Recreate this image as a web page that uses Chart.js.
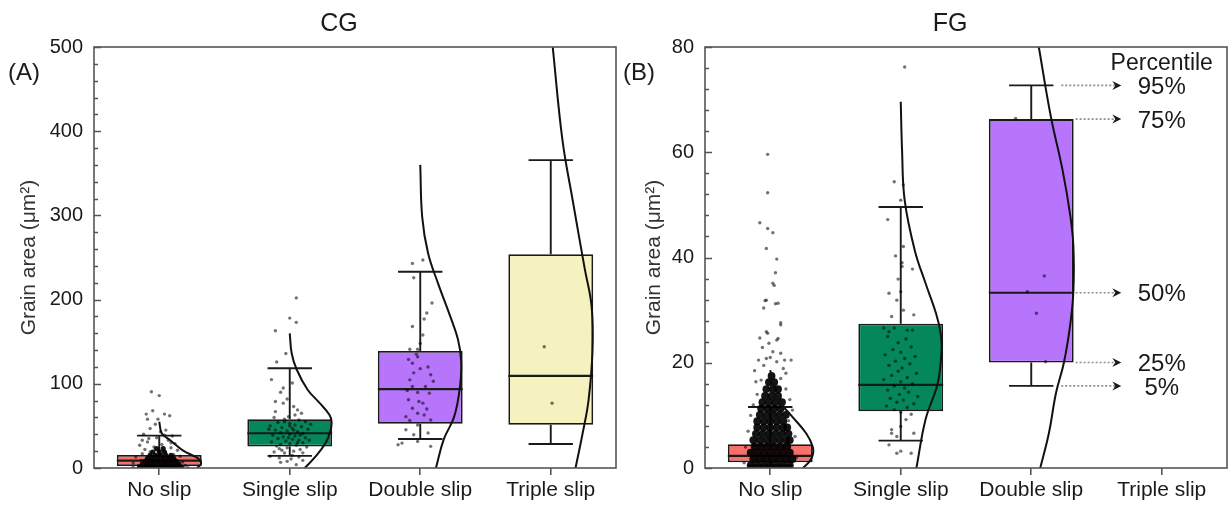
<!DOCTYPE html>
<html>
<head>
<meta charset="UTF-8">
<title>Grain area by slip type</title>
<script src="https://cdn.jsdelivr.net/npm/chart.js"></script>
<style>
  body { margin: 0; background: #fff; }
  #wrap { position: relative; width: 1231px; height: 505px; }
  canvas { position: absolute; top: 0; }
  #cg { left: 0; }
  #fg { left: 620px; }
</style>
</head>
<body>
<div id="wrap">
  <canvas id="cg" width="620" height="505"></canvas>
  <canvas id="fg" width="611" height="505"></canvas>
</div>
<script>
const FONT = '"Liberation Sans", Arial, sans-serif';
const categories = ["No slip", "Single slip", "Double slip", "Triple slip"];
const boxColors = ["#f86f6c", "#03875b", "#b775fc", "#f6f2bf"];
const percentileLabels = ["5%", "25%", "50%", "75%", "95%"];

// box stats per category: [p5, q1, median, q3, p95]
const cgStats = [[1, 2.4, 8.7, 15.4, 38.4], [14.4, 25.5, 41.3, 57.9, 118.5], [34.4, 52.6, 93.7, 139, 233], [28.5, 51.4, 109.5, 254, 365.6]];
const fgStats = [[0.5, 1.1, 2.3, 4.5, 11.6], [5.2, 10.8, 15.8, 27.4, 49.6], [15.6, 20.05, 33.3, 66.3, 72.7], null];

// jittered grains: [offset from category, area]
const cgNoSlipDots = [[-0.06,90.6],[0.0,86],[-0.1,64],[-0.05,68],[-0.09,58],[-0.01,58],[0.04,64],[0.08,62],[-0.03,52],[-0.07,47],[0.01,43],
  [0.05,45],[-0.12,40],[0.10,38],[-0.02,36],[0.07,33],[-0.09,31],[0.12,29],[-0.15,27],[0.02,28],[-0.04,25],[0.09,24],[-0.11,22],[0.14,21],
  [0.0,20],[-0.07,19],[0.05,18],[-0.13,17],[0.11,16],[-0.02,15],[0.16,14],[-0.18,13],[0.07,13],[-0.09,12],[0.03,11],[-0.05,10],[0.12,10],
  [-0.14,9],[0.09,8],[-0.01,8],[0.18,7],[-0.2,6],[0.05,6],[-0.1,5],[0.14,5],[-0.04,4],[0.02,4],[-0.16,3],[0.2,3],[0.08,3],[-0.08,2],
  [0.0,2],[0.12,2],[-0.12,1.5],[0.04,1],[-0.03,1],[0.16,1],[-0.2,1],[0.22,0.5],[-0.06,0.5],[0.1,0.5],[-0.08,35],[0.04,39],[-0.13,33],[0.09,30]];
const cgNoSlipCore = [[-0.15,1],[-0.11,1],[-0.07,1],[-0.03,1],[0.01,1],[0.05,1],[0.09,1],[0.13,1],[0.17,1],
  [-0.13,4.5],[-0.09,4.5],[-0.05,4.5],[-0.01,4.5],[0.03,4.5],[0.07,4.5],[0.11,4.5],[0.15,4.5],
  [-0.11,8],[-0.07,8],[-0.03,8],[0.01,8],[0.05,8],[0.09,8],[0.13,8],
  [-0.09,11.5],[-0.05,11.5],[-0.01,11.5],[0.03,11.5],[0.07,11.5],[0.11,11.5],
  [-0.07,15],[-0.03,15],[0.01,15],[0.05,15],[0.09,15],[-0.05,19],[0.0,19],[0.04,19],[-0.02,23],[0.03,23]];
const cgSingleDots = [[0.05,202],[0.0,178],[0.05,173],[-0.11,163],[-0.03,136],[-0.1,126],[-0.14,105],[-0.05,95],[0.02,101],[-0.07,90],
  [-0.02,82],[-0.11,79],[-0.05,77],[0.03,73],[0.06,69],[0.09,65],[-0.11,67],
  [-0.12,60],[-0.04,58],[0.07,57],[0.12,55],[-0.09,54],[0.0,53],[0.04,51],[-0.15,50],[0.09,49],[-0.06,48],[0.02,47],[0.14,46],[-0.11,45],
  [-0.02,44],[0.06,43],[-0.07,42],[0.1,41],[0.0,40],[-0.13,39],[0.04,38],[-0.05,37],[0.12,36],[-0.09,35],[0.02,34],[0.07,33],[-0.03,32],
  [-0.14,31],[0.1,30],[0.0,29],[-0.07,28],[0.05,27],[-0.1,26],[0.13,25],[-0.02,24],[0.08,22],[-0.06,21],[0.03,20],[-0.12,19],[0.1,18],
  [-0.04,17.8],[0.02,15],[0.07,13],[-0.08,12],[0.01,10.7],[-0.07,6.7],[0.05,4],[-0.02,7.9],[0.1,9],[-0.15,14],[0.15,33],[-0.16,46],
  [0.16,52],[-0.01,61],[0.04,63],[-0.04,55],[0.03,45],[-0.01,36],[0.06,30],[-0.08,23],[0.0,50],[0.08,39]];
const cgDoubleDots = [[-0.06,243],[0.02,247],[-0.05,226],[0.09,196],[0.05,184],[0.03,177],[-0.06,168],[0.02,158],[0.0,148],[-0.08,141],
  [-0.02,141],[-0.09,129],[-0.06,124.5],[-0.02,132],[-0.05,113],[0.08,110.7],[-0.08,104.7],[-0.06,96.8],[0.04,96.8],[-0.02,89.7],[0.07,88.9],
  [-0.09,81],[-0.01,79],[0.02,77],[-0.06,71],[0.05,70],[-0.02,65],[-0.11,61],[0.03,63],[-0.08,56.5],[0.08,57],[-0.02,51],[-0.11,45.5],
  [0.06,41.5],[-0.05,39.5],[-0.14,29.6],[0.08,25.7],[-0.02,31.6],[-0.17,27.7],[0.0,118],[-0.03,135],[0.06,120],[-0.1,92],[0.1,103]];
const cgTripleDots = [[-0.05,144],[0.01,77]];

const fgNoSlipDots = [[-0.02,59.6],[-0.02,52.3],[-0.08,46.6],[-0.02,45.5],[0.02,44.7],[-0.03,41.7],[0.05,39.7],[0.04,37.1],[0.02,35.1],
  [0.03,34.7],[-0.03,31.9],[-0.05,30.4],[0.04,31.2],[0.08,27.6],[0.08,27.2],[-0.02,25.6],[-0.08,24.7],[0.05,24.3],[-0.04,31.8],[0.06,31.3],
  [-0.03,25.9],[0.06,24.6],[-0.01,23.7],[-0.06,22.9],[0.02,22.1],[0.08,21.8],[0.11,20.5],[0.16,20.5],[-0.03,20.8],[0.05,20.2],[-0.09,20.5],
  [0.12,18],[-0.07,16.7],[-0.11,16.4],[0.1,18.9],[-0.1,14],[0.12,15],[-0.13,12],[0.15,13],[-0.15,10],[0.17,11],[-0.12,18.5],[0.08,17],
  [-0.05,19.5],[0.0,21],[0.14,9],[-0.17,7],[0.19,6],[-0.19,4],[0.2,2],[-0.2,1]];
const fgNoSlipCore = [[-0.15,0.5],[-0.1,0.5],[-0.05,0.5],[0,0.5],[0.05,0.5],[0.1,0.5],[0.15,0.5],
  [-0.13,1.7],[-0.08,1.7],[-0.03,1.7],[0.02,1.7],[0.07,1.7],[0.12,1.7],[0.17,1.7],
  [-0.15,2.9],[-0.1,2.9],[-0.05,2.9],[0,2.9],[0.05,2.9],[0.1,2.9],[0.15,2.9],
  [-0.12,4.1],[-0.07,4.1],[-0.02,4.1],[0.03,4.1],[0.08,4.1],[0.13,4.1],
  [-0.13,5.3],[-0.08,5.3],[-0.03,5.3],[0.02,5.3],[0.07,5.3],[0.12,5.3],[0.15,5.3],
  [-0.11,6.5],[-0.06,6.5],[-0.01,6.5],[0.04,6.5],[0.09,6.5],[0.14,6.5],
  [-0.1,7.7],[-0.05,7.7],[0,7.7],[0.05,7.7],[0.1,7.7],[0.13,7.7],
  [-0.1,8.9],[-0.05,8.9],[0,8.9],[0.05,8.9],[0.1,8.9],
  [-0.08,10.1],[-0.03,10.1],[0.02,10.1],[0.07,10.1],[0.12,10.1],
  [-0.07,11.3],[-0.02,11.3],[0.03,11.3],[0.08,11.3],
  [-0.06,12.5],[-0.01,12.5],[0.04,12.5],[0.09,12.5],
  [-0.04,13.7],[0.01,13.7],[0.06,13.7],[-0.03,15],[0.02,15],[0.06,15],[-0.01,16.3],[0.03,16.3],[0.01,17.5]];
const fgSingleDots = [[0.03,76.2],[-0.05,54.4],[0.02,53.8],[0,50.9],[-0.1,47.2],[0.02,42.1],[-0.04,40.3],[0.01,38.3],[0.09,37.8],[0.01,39],
  [-0.02,35.9],[0,33.5],[-0.09,33.2],[-0.03,31.9],[0.02,30],[0.1,29.1],[-0.07,28.8],[-0.13,26.6],[-0.05,26.6],[0.05,26.2],[-0.09,25.9],
  [0.09,26.2],[-0.1,25],[0.04,24.5],[-0.02,23.8],[0.08,23],[-0.06,22.5],[0.0,22],[-0.12,21.5],[0.11,21.2],[0.03,20.8],[-0.04,20.3],
  [0.07,19.8],[-0.09,19.5],[0.01,19],[-0.02,18.4],[0.12,18],[-0.07,17.6],[0.05,17.2],[-0.13,16.8],[0.0,16.4],[0.09,16],[-0.05,15.6],
  [0.03,15.2],[-0.1,14.8],[0.06,14.4],[-0.01,14],[0.13,13.6],[-0.08,13.2],[0.02,12.9],[-0.03,12.5],[0.1,12.2],[-0.11,11.8],[0.05,11.5],
  [-0.05,11.1],[0.0,10.6],[0.08,10.2],[0.04,9.2],[0,7.9],[-0.07,7.3],[0.1,6.6],[-0.07,6.6],[-0.03,6],[-0.09,4.4],[0,3.2],[-0.03,2.8],[0.08,2.8]];
const fgDoubleDots = [[-0.12,66.4],[0.1,36.5],[-0.03,33.5],[0.04,29.4],[0.11,20.2]];

// fitted distribution outlines: [offset from category, area]
const cgNoSlipCurve = [[0,55],[0.02,41],[0.084,33],[0.18,21],[0.275,13.4],[0.31,9.5],[0.32,4.8],[0.29,0]];
const cgSingleCurve = [[0,160],[0.015,136],[0.053,117],[0.137,93],[0.23,77],[0.305,63],[0.32,55],[0.313,45],[0.275,30],[0.2,14],[0.115,0]];
const cgDoubleCurve = [[0,360],[0.015,298],[0.06,255],[0.137,219],[0.23,180],[0.29,152],[0.313,128],[0.305,97],[0.26,61],[0.18,34],[0.12,0]];
const cgTripleCurve = [[0.015,500],[0.09,389],[0.168,318],[0.26,237],[0.313,192],[0.32,140],[0.29,81],[0.244,41],[0.19,0]];
const fgNoSlipCurve = [[0,18.6],[0.046,13.5],[0.16,10],[0.275,6.6],[0.326,4],[0.326,2.5],[0.3,1.2],[0.25,0]];
const fgSingleCurve = [[0,69.6],[0.01,60.4],[0.03,50.9],[0.107,41.4],[0.19,35.1],[0.27,29.4],[0.306,25.6],[0.313,22.4],[0.283,16.1],[0.19,9.2],[0.12,0]];
const fgDoubleCurve = [[0.058,80],[0.15,66.8],[0.24,56.6],[0.3,47.8],[0.323,42],[0.323,33.8],[0.3,27.5],[0.25,20],[0.19,14.3],[0.135,6.6],[0.069,0]];

const xy = (list, i) => list.map(p => ({ x: i + p[0], y: p[1] }));

const decor = {
  id: "decor",
  afterDatasetDraw(chart, args, o) {
    if (args.index !== 0) return;
    const ctx = chart.ctx, xv = chart.scales.xv, y = chart.scales.y;
    const bars = chart.getDatasetMeta(0).data;
    ctx.save();
    ctx.strokeStyle = "#1a1a1a";
    o.stats.forEach((s, i) => {
      if (!s) return;
      const cx = xv.getPixelForValue(i);
      const l = xv.getPixelForValue(i - 0.17), r = xv.getPixelForValue(i + 0.17);
      const p = s.map(v => y.getPixelForValue(v));
      ctx.lineWidth = 1.9;
      ctx.beginPath();
      ctx.moveTo(cx, p[3]); ctx.lineTo(cx, p[4]);
      ctx.moveTo(cx, p[1]); ctx.lineTo(cx, p[0]);
      ctx.moveTo(l, p[4]); ctx.lineTo(r, p[4]);
      ctx.moveTo(l, p[0]); ctx.lineTo(r, p[0]);
      ctx.stroke();
      const b = bars[i];
      ctx.lineWidth = 2.2;
      ctx.beginPath();
      ctx.moveTo(b.x - b.width / 2, p[2]); ctx.lineTo(b.x + b.width / 2, p[2]);
      ctx.stroke();
    });
    ctx.restore();
  },
  afterDraw(chart, args, o) {
    const ctx = chart.ctx, ca = chart.chartArea, y = chart.scales.y, xv = chart.scales.xv;
    ctx.save();
    // frame
    ctx.strokeStyle = "#555";
    ctx.lineWidth = 1.6;
    ctx.strokeRect(ca.left, ca.top, ca.right - ca.left, ca.bottom - ca.top);
    // inward y ticks
    const n = Math.round(o.yMax / o.minor);
    ctx.beginPath();
    for (let k = 0; k <= n; k++) {
      const v = k * o.minor;
      const len = v % o.major === 0 ? 7 : 4;
      const py = Math.round(y.getPixelForValue(v)) + 0.5;
      ctx.moveTo(ca.left, py); ctx.lineTo(ca.left + len, py);
    }
    ctx.stroke();
    // texts
    ctx.fillStyle = "#1a1a1a";
    ctx.textBaseline = "middle";
    ctx.font = "25px " + FONT;
    ctx.textAlign = "center";
    ctx.fillText(o.title, (ca.left + ca.right) / 2 - 16, 24);
    ctx.font = "24px " + FONT;
    ctx.textAlign = "left";
    ctx.fillText(o.letter, o.letterX, 73);
    ctx.save();
    ctx.translate(o.yLabelX, (ca.top + ca.bottom) / 2);
    ctx.rotate(-Math.PI / 2);
    ctx.textAlign = "center";
    ctx.font = "21px " + FONT;
    ctx.fillStyle = "#333";
    ctx.fillText("Grain area (\u03bcm\u00b2)", 0, 0);
    ctx.restore();
    // percentile guide
    if (o.percentile) {
      const s = o.stats[2];
      const starts = [0.23, 0.34, 0.34, 0.34, 0.23];
      const tip = xv.getPixelForValue(2.69);
      const tx = xv.getPixelForValue(3);
      ctx.font = "24px " + FONT;
      ctx.textAlign = "center";
      s.forEach((v, k) => {
        const py = y.getPixelForValue(v);
        ctx.strokeStyle = "#8f8f8f";
        ctx.lineWidth = 1.6;
        ctx.setLineDash([2, 2]);
        ctx.beginPath();
        ctx.moveTo(xv.getPixelForValue(2 + starts[k]), py);
        ctx.lineTo(tip - 6, py);
        ctx.stroke();
        ctx.setLineDash([]);
        ctx.fillStyle = "#1a1a1a";
        ctx.beginPath();
        ctx.moveTo(tip, py); ctx.lineTo(tip - 9, py - 4.5); ctx.lineTo(tip - 6, py); ctx.lineTo(tip - 9, py + 4.5);
        ctx.closePath(); ctx.fill();
        ctx.fillText(percentileLabels[k], tx, py + 2);
      });
      ctx.font = "23px " + FONT;
      ctx.fillText("Percentile", tx, y.getPixelForValue(s[4]) - 22);
    }
    ctx.restore();
  }
};

function makePanel(id, stats, dots, core, curves, opt) {
  const datasets = [{
    type: "bar",
    data: stats.map(s => s ? [s[1], s[3]] : null),
    backgroundColor: boxColors,
    borderColor: "#1a1a1a",
    borderWidth: 1.8,
    borderSkipped: false,
    grouped: false,
    barPercentage: 0.65,
    categoryPercentage: 1,
    order: 5
  }, {
    type: "scatter",
    xAxisID: "xv",
    data: core.flatMap((c, i) => xy(c, i)),
    pointRadius: opt.coreRadius,
    pointBorderWidth: 0,
    pointBackgroundColor: "rgba(0,0,0,0.92)",
    order: 4
  }, {
    type: "scatter",
    xAxisID: "xv",
    data: dots.flatMap((d, i) => xy(d, i)),
    pointRadius: 1.7,
    pointBorderWidth: 0,
    pointBackgroundColor: "rgba(0,0,0,0.55)",
    order: 3
  }];
  curves.forEach((c, i) => {
    if (!c) return;
    datasets.push({
      type: "scatter",
      xAxisID: "xv",
      data: xy(c, i),
      showLine: true,
      tension: 0.4,
      pointRadius: 0,
      borderColor: "#111",
      borderWidth: 2,
      order: 1
    });
  });

  new Chart(document.getElementById(id), {
    type: "bar",
    data: { labels: categories, datasets },
    options: {
      responsive: false,
      animation: false,
      events: [],
      layout: { padding: { left: 0, top: 47, right: opt.padRight, bottom: 0 } },
      plugins: {
        legend: { display: false },
        tooltip: { enabled: false },
        decor: Object.assign({ stats }, opt)
      },
      scales: {
        x: {
          type: "category",
          offset: true,
          grid: { offset: false, drawOnChartArea: false, drawTicks: true, tickLength: 7, color: "#555", lineWidth: 1.6 },
          border: { display: false },
          ticks: { font: { family: FONT, size: 21 }, color: "#1a1a1a", padding: 3, maxRotation: 0, autoSkip: false },
          afterFit: s => { s.height = 37; }
        },
        xv: { type: "linear", display: false, offset: false, min: -0.5, max: 3.5 },
        y: {
          min: 0,
          max: opt.yMax,
          ticks: { stepSize: opt.major, font: { family: FONT, size: 20 }, color: "#1a1a1a", padding: 11 },
          grid: { display: false, drawTicks: false },
          border: { display: false },
          afterFit: s => { s.width = opt.yWidth; }
        }
      }
    },
    plugins: [decor]
  });
}

makePanel("cg", cgStats,
  [cgNoSlipDots, cgSingleDots, cgDoubleDots, cgTripleDots],
  [cgNoSlipCore],
  [cgNoSlipCurve, cgSingleCurve, cgDoubleCurve, cgTripleCurve],
  { title: "CG", letter: "(A)", letterX: 8, yLabelX: 29, yMax: 500, major: 100, minor: 20, yWidth: 94, padRight: 3, coreRadius: 2.6, percentile: false });

makePanel("fg", fgStats,
  [fgNoSlipDots, fgSingleDots, fgDoubleDots],
  [fgNoSlipCore],
  [fgNoSlipCurve, fgSingleCurve, fgDoubleCurve],
  { title: "FG", letter: "(B)", letterX: 3, yLabelX: 34, yMax: 80, major: 20, minor: 4, yWidth: 85, padRight: 4, coreRadius: 3.9, percentile: true });
</script>
</body>
</html>
